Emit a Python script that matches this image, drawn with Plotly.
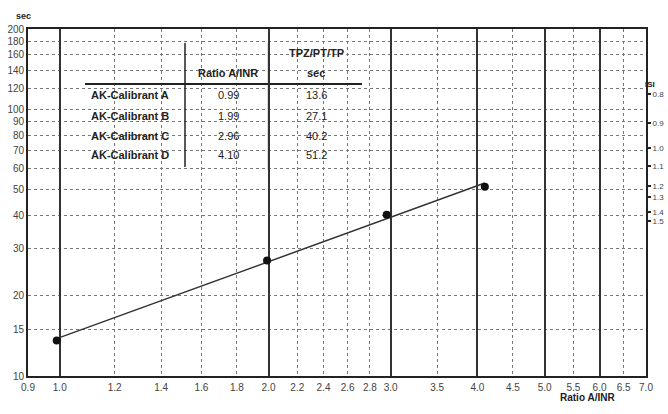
import numpy as np
import plotly.graph_objects as go

# ---------------- data ----------------
calibrants = ["AK-Calibrant A", "AK-Calibrant B", "AK-Calibrant C", "AK-Calibrant D"]
ratio_inr = [0.99, 1.99, 2.96, 4.10]
tpz_sec = [13.6, 27.1, 40.2, 51.2]

x_ticks = [0.9, 1.0, 1.2, 1.4, 1.6, 1.8, 2.0, 2.2, 2.4, 2.6, 2.8, 3.0, 3.5, 4.0, 4.5, 5.0, 5.5, 6.0, 6.5, 7.0]
x_major = [1, 2, 3, 4, 5, 6]
y_ticks = [10, 15, 20, 30, 40, 50, 60, 70, 80, 90, 100, 120, 140, 160, 180, 200]
isi_labels = ["0.8", "0.9", "1.0", "1.1", "1.2", "1.3", "1.4", "1.5"]
isi_sec = [114, 89, 71.6, 61.3, 51.6, 46.9, 41.2, 38.2]

# ---------------- layout helpers ----------------
W, H = 668, 414
ML, MR, MT, MB = 28, 22, 29, 38
PW, PH = W - ML - MR, H - MT - MB


def px(x):
    return (x - ML) / PW


def py(y):
    return (H - MB - y) / PH


FONT = "Liberation Sans, Arial, sans-serif"
INK = "#222"

fig = go.Figure()

# regression line in log-log space
lx, ly = np.log10(ratio_inr), np.log10(tpz_sec)
coef = np.polyfit(lx, ly, 1)
x_fit = np.array([min(ratio_inr), max(ratio_inr)])
y_fit = 10 ** np.polyval(coef, np.log10(x_fit))
fig.add_trace(go.Scatter(x=x_fit, y=y_fit, mode="lines",
                         line=dict(color="#333", width=1.5), hoverinfo="skip"))
fig.add_trace(go.Scatter(x=ratio_inr, y=tpz_sec, mode="markers",
                         marker=dict(color="#111", size=8), text=calibrants))

# invisible trace to activate the overlay axes
fig.add_trace(go.Scatter(x=[x_ticks[0]], y=[y_ticks[0]], xaxis="x2", yaxis="y2",
                         mode="markers", marker=dict(opacity=0), hoverinfo="skip"))

xr = [np.log10(x_ticks[0]), np.log10(x_ticks[-1])]
yr = [np.log10(y_ticks[0]), np.log10(y_ticks[-1])]

fig.update_layout(
    width=W, height=H,
    margin=dict(l=ML, r=MR, t=MT, b=MB, autoexpand=False),
    paper_bgcolor="white", plot_bgcolor="white",
    showlegend=False,
    font=dict(family=FONT, color="#333", size=10),
    xaxis=dict(type="log", range=xr, tickvals=x_ticks, automargin=False,
               ticktext=[f"{v:.1f}" for v in x_ticks], ticklabelstandoff=1,
               showgrid=True, gridcolor="#777", griddash="dot", gridwidth=1,
               showline=True, mirror=True, linecolor=INK, linewidth=1.6,
               ticks="", zeroline=False, tickfont=dict(size=10, color="#444")),
    yaxis=dict(type="log", range=yr, tickvals=y_ticks, automargin=False,
               ticktext=[str(v) for v in y_ticks],
               showgrid=True, gridcolor="#777", griddash="dot", gridwidth=1,
               showline=True, mirror=True, linecolor=INK, linewidth=1.6,
               ticks="", zeroline=False, tickfont=dict(size=10, color="#444")),
    xaxis2=dict(type="log", range=xr, overlaying="x", tickvals=x_major, automargin=False,
                showticklabels=False, showgrid=True, gridcolor="#333",
                gridwidth=1.5, ticks="", zeroline=False, showline=False),
    yaxis2=dict(type="log", range=yr, overlaying="y", side="right", anchor="x",
                automargin=False,
                tickvals=isi_sec, ticktext=isi_labels, showgrid=False,
                ticks="outside", ticklen=4, tickwidth=2, tickcolor=INK,
                showline=False, zeroline=False,
                tickfont=dict(size=8, color="#444")),
)

# table panel covering the grid
tx0, tx1, ty0, ty1 = 85, 363, 43, 170
fig.add_shape(type="rect", xref="paper", yref="paper",
              x0=px(tx0), x1=px(tx1), y0=py(ty1), y1=py(ty0),
              fillcolor="white", line=dict(width=0), layer="between")
# header rule
fig.add_shape(type="line", xref="paper", yref="paper",
              x0=px(tx0), x1=px(362), y0=py(84), y1=py(84),
              line=dict(color=INK, width=2), layer="above")
# first column divider
fig.add_shape(type="line", xref="paper", yref="paper",
              x0=px(185), x1=px(185), y0=py(43), y1=py(167),
              line=dict(color=INK, width=1.5), layer="above")
# second column divider (falls on the 2.0 major line)
fig.add_shape(type="line", xref="x", yref="paper",
              x0=2.0, x1=2.0, y0=py(ty1), y1=py(ty0),
              line=dict(color="#333", width=1.5), layer="above")

ann = []
ann.append(dict(x=px(228), y=py(73), text="<b>Ratio A/INR</b>"))
ann.append(dict(x=px(316), y=py(53), text="<b>TPZ/PT/TP</b>"))
ann.append(dict(x=px(316), y=py(73), text="<b>sec</b>"))
row_y = [95, 116, 136, 155]
for name, r, s, yy in zip(calibrants, ratio_inr, tpz_sec, row_y):
    ann.append(dict(x=px(89), y=py(yy), text=f"<b>{name}</b>", xanchor="left"))
    ann.append(dict(x=px(228), y=py(yy), text=f"{r:.2f}"))
    ann.append(dict(x=px(316), y=py(yy), text=f"{s:.1f}"))
for a in ann:
    a.setdefault("xanchor", "center")
    fig.add_annotation(xref="paper", yref="paper", yanchor="middle", showarrow=False,
                       font=dict(family=FONT, size=11, color=INK), **a)

# axis titles
fig.add_annotation(xref="paper", yref="paper", x=px(14), y=py(9), text="<b>sec</b>",
                   showarrow=False, font=dict(family=FONT, size=9, color=INK))
fig.add_annotation(xref="paper", yref="paper", x=px(617), y=py(405),
                   text="<b>Ratio A/INR</b>", showarrow=False,
                   font=dict(family=FONT, size=10, color=INK))
fig.add_annotation(xref="paper", yref="paper", x=px(657), y=py(78), text="<b>ISI</b>",
                   showarrow=False, font=dict(family=FONT, size=8, color=INK))

fig.write_html("out.html", config={"displayModeBar": False},
               post_script="document.body.style.margin='0';")
